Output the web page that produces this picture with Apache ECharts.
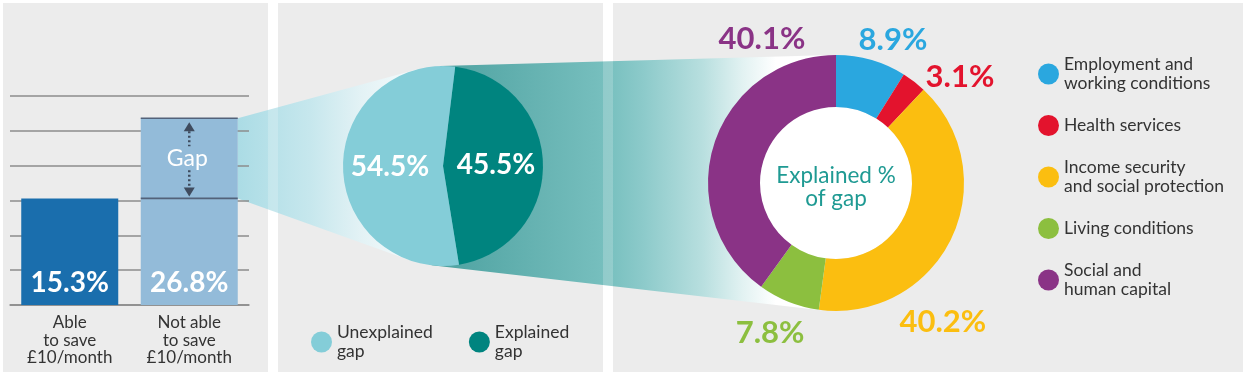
<!DOCTYPE html>
<html>
<head>
<meta charset="utf-8">
<title>Savings gap</title>
<script src="https://cdn.jsdelivr.net/npm/echarts@6/dist/echarts.min.js"></script>
<style>
  html, body { margin: 0; padding: 0; background: #fff; }
  #main { width: 1248px; height: 376px; }
</style>
</head>
<body>
<div id="main"></div>
<script>
// ---- data ----
var barCategories = ['Able\nto save\n£10/month', 'Not able\nto save\n£10/month'];
var barValues = [15.3, 26.8];
var gapRange = [15.3, 26.8];
var gapLabel = 'Gap';

var splitNames = ['Unexplained\ngap', 'Explained\ngap'];
var splitValues = [54.5, 45.5];

var factorNames = [
    'Employment and\nworking conditions',
    'Health services',
    'Income security\nand social protection',
    'Living conditions',
    'Social and\nhuman capital'
];
var factorValues = [8.9, 3.1, 40.2, 7.8, 40.1];
var centerText = 'Explained %\nof gap';

// ---- styling / layout ----
var FONT = 'Lato, "Open Sans", sans-serif';
var barColors = ['#1a6ead', '#93bbd9'];
var splitColors = ['#84cdd8', '#00847f'];
var factorColors = ['#2aa7df', '#e3132d', '#fbbe10', '#8cbf3f', '#8a3386'];
var barWidth = 97;
var splitCenter = [443, 166], splitRadius = 100;
var factorCenter = [836, 183], factorRadius = [76, 128];
// label placement round the donut: [degrees clockwise from 12 o'clock, distance from centre]
var factorLabelPos = [[21.7, 154], [49.5, 163], [142.4, 175], [203.7, 164], [332.8, 162]];
var panels = [[3, 3, 265, 369], [278, 3, 325, 369], [613, 3, 630, 369]];
var gutters = [[268, 3, 10, 369], [603, 3, 10, 369]];

var chart = echarts.init(document.getElementById('main'));

function renderGap(params, api) {
    var x = api.coord([api.value(0), 0])[0];
    var yLow = api.coord([api.value(0), api.value(1)])[1];
    var yHigh = api.coord([api.value(0), api.value(2)])[1];
    var half = barWidth / 2, mid = (yLow + yHigh) / 2;
    var ink = '#3f4b5e', rule = '#53627a';
    return {
        type: 'group',
        children: [
            { type: 'line', shape: { x1: x - half, y1: yLow, x2: x + half, y2: yLow }, style: { stroke: rule, lineWidth: 1.6 } },
            { type: 'line', shape: { x1: x - half, y1: yHigh, x2: x + half, y2: yHigh }, style: { stroke: rule, lineWidth: 1.6 } },
            { type: 'polygon', shape: { points: [[x, yHigh + 4], [x - 5.5, yHigh + 13], [x + 5.5, yHigh + 13]] }, style: { fill: ink } },
            { type: 'polygon', shape: { points: [[x, yLow - 2], [x - 5.5, yLow - 11], [x + 5.5, yLow - 11]] }, style: { fill: ink } },
            { type: 'line', shape: { x1: x, y1: yHigh + 13, x2: x, y2: mid - 12 }, style: { stroke: ink, lineWidth: 2.5, lineDash: [2, 2.5] } },
            { type: 'line', shape: { x1: x, y1: mid + 12, x2: x, y2: yLow - 11 }, style: { stroke: ink, lineWidth: 2.5, lineDash: [2, 2.5] } },
            { type: 'text', x: x - 2, y: mid, style: { text: gapLabel, fill: '#fff', fontSize: 23, fontFamily: FONT, align: 'center', verticalAlign: 'middle' } }
        ]
    };
}

var option = {
    backgroundColor: '#ffffff',
    animation: false,
    textStyle: { fontFamily: FONT },
    grid: { left: 10, right: 999, top: 96, bottom: 71, outerBoundsMode: 'none' },
    xAxis: {
        type: 'category',
        data: barCategories,
        axisLine: { show: true, lineStyle: { color: '#8c8c8c', width: 1.5 } },
        axisTick: { show: false },
        axisLabel: { color: '#333', fontSize: 17, lineHeight: 17.5, margin: 9, fontFamily: FONT }
    },
    yAxis: {
        type: 'value',
        min: 0, max: 30, interval: 5,
        axisLabel: { show: false },
        axisLine: { show: false },
        axisTick: { show: false },
        splitLine: { lineStyle: { color: '#8c8c8c', width: 1.5 } }
    },
    legend: [{
        data: splitNames,
        left: 311, top: 323,
        padding: 0,
        orient: 'horizontal',
        icon: 'circle',
        itemWidth: 21, itemHeight: 21, itemGap: 36,
        selectedMode: false,
        textStyle: { color: '#333', fontSize: 17.5, lineHeight: 19, fontFamily: FONT }
    }, {
        data: factorNames,
        left: 1038, top: 55,
        padding: 0,
        orient: 'vertical',
        icon: 'circle',
        itemWidth: 21, itemHeight: 21, itemGap: 22,
        selectedMode: false,
        textStyle: { color: '#333', fontSize: 17.5, lineHeight: 19, fontFamily: FONT }
    }],
    series: [{
        type: 'bar',
        data: barValues.map(function (v, i) { return { value: v, itemStyle: { color: barColors[i] } }; }),
        barWidth: barWidth,
        z: 2,
        label: {
            show: true, position: 'insideBottom', distance: 8,
            formatter: '{c}%', color: '#fff', fontSize: 28, fontWeight: 'bold', fontFamily: FONT
        }
    }, {
        type: 'custom',
        renderItem: renderGap,
        data: [[1, gapRange[0], gapRange[1]]],
        z: 3,
        silent: true
    }, {
        type: 'pie',
        center: splitCenter,
        radius: splitRadius,
        startAngle: 83,
        clockwise: true,
        silent: true,
        data: [
            { name: splitNames[1], value: splitValues[1], itemStyle: { color: splitColors[1] } },
            { name: splitNames[0], value: splitValues[0], itemStyle: { color: splitColors[0] } }
        ],
        label: {
            show: true, position: 'inside', formatter: '{c}%',
            color: '#fff', fontSize: 28, fontWeight: 'bold', fontFamily: FONT
        },
        labelLine: { show: false }
    }, {
        type: 'pie',
        center: factorCenter,
        radius: factorRadius,
        startAngle: 90,
        clockwise: true,
        silent: true,
        data: factorNames.map(function (n, i) {
            return { name: n, value: factorValues[i], itemStyle: { color: factorColors[i] }, label: { color: factorColors[i] } };
        }),
        label: {
            show: true, position: 'outside', formatter: '{c}%',
            fontSize: 31, fontWeight: 'bold', fontFamily: FONT
        },
        labelLine: { show: false },
        labelLayout: function (p) {
            var pos = factorLabelPos[p.dataIndex];
            var a = pos[0] * Math.PI / 180;
            return {
                x: factorCenter[0] + pos[1] * Math.sin(a),
                y: factorCenter[1] - pos[1] * Math.cos(a),
                align: 'center', verticalAlign: 'middle'
            };
        }
    }]
};
chart.setOption(option);

// ---- connectors drawn from the laid-out chart ----
function tangentFrom(p, c, r, side) {
    var dx = p[0] - c[0], dy = p[1] - c[1];
    var d = Math.sqrt(dx * dx + dy * dy);
    var t = Math.atan2(dy, dx) + side * Math.acos(r / d);
    return [c[0] + r * Math.cos(t), c[1] + r * Math.sin(t)];
}
function hullTangents(c1, r1, c2, r2) {
    var dx = c2[0] - c1[0], dy = c2[1] - c1[1];
    var d = Math.sqrt(dx * dx + dy * dy);
    var base = Math.atan2(dy, dx), off = Math.acos((r1 - r2) / d);
    var up = base - off, down = base + off;
    return {
        a1: [c1[0] + r1 * Math.cos(up), c1[1] + r1 * Math.sin(up)],
        a2: [c2[0] + r2 * Math.cos(up), c2[1] + r2 * Math.sin(up)],
        b1: [c1[0] + r1 * Math.cos(down), c1[1] + r1 * Math.sin(down)],
        b2: [c2[0] + r2 * Math.cos(down), c2[1] + r2 * Math.sin(down)]
    };
}

var topPx = chart.convertToPixel({ gridIndex: 0 }, [barCategories[1], gapRange[1]]);
var lowPx = chart.convertToPixel({ gridIndex: 0 }, [barCategories[1], gapRange[0]]);
var p1 = [topPx[0] + barWidth / 2, topPx[1]];
var p2 = [lowPx[0] + barWidth / 2, lowPx[1]];
var t1 = tangentFrom(p1, splitCenter, splitRadius, 1);
var t2 = tangentFrom(p2, splitCenter, splitRadius, -1);
var h = hullTangents(splitCenter, splitRadius, factorCenter, factorRadius[1]);

var graphics = [];
panels.forEach(function (r, i) {
    graphics.push({ type: 'rect', id: 'panel' + i, z: -10, silent: true,
        shape: { x: r[0], y: r[1], width: r[2], height: r[3] }, style: { fill: '#ececec' } });
});
graphics.push({
    type: 'polygon', id: 'fan1', z: -6, silent: true,
    shape: { points: [p1, t1, splitCenter, t2, p2] },
    style: { fill: { type: 'linear', global: true, x: p1[0], y: 0, x2: splitCenter[0], y2: 0,
        colorStops: [{ offset: 0, color: '#abdce5' }, { offset: 0.35, color: '#c6e7ed' },
                     { offset: 0.6, color: '#e3f2f5' }, { offset: 1, color: '#ffffff' }] } }
});
graphics.push({
    type: 'polygon', id: 'fan2', z: -6, silent: true,
    shape: { points: [h.a1, h.a2, factorCenter, h.b2, h.b1, splitCenter] },
    style: { fill: { type: 'linear', global: true, x: splitCenter[0], y: 0, x2: factorCenter[0] - 60, y2: 0,
        colorStops: [{ offset: 0, color: '#4fa3a2' }, { offset: 0.3, color: '#68b4b3' },
                     { offset: 0.5, color: '#78c0bf' }, { offset: 0.6, color: '#8ccaca' },
                     { offset: 0.78, color: '#b8dfdf' }, { offset: 0.9, color: '#e2f2f2' },
                     { offset: 1, color: '#ffffff' }] } }
});
gutters.forEach(function (r, i) {
    graphics.push({ type: 'rect', id: 'gutter' + i, z: -5, silent: true,
        shape: { x: r[0], y: r[1], width: r[2], height: r[3] }, style: { fill: 'rgba(255,255,255,0.2)' } });
});
graphics.push({
    type: 'circle', id: 'hole', z: -4, silent: true,
    shape: { cx: factorCenter[0], cy: factorCenter[1], r: factorRadius[0] },
    style: { fill: '#ffffff' }
});
graphics.push({
    type: 'text', id: 'centreText', z: 10, silent: true,
    x: factorCenter[0], y: factorCenter[1] + 4,
    style: { text: centerText, fill: '#1f9a93', fontSize: 22.5, lineHeight: 23, fontFamily: FONT,
        align: 'center', verticalAlign: 'middle' }
});
chart.setOption({ graphic: graphics });
</script>
</body>
</html>
